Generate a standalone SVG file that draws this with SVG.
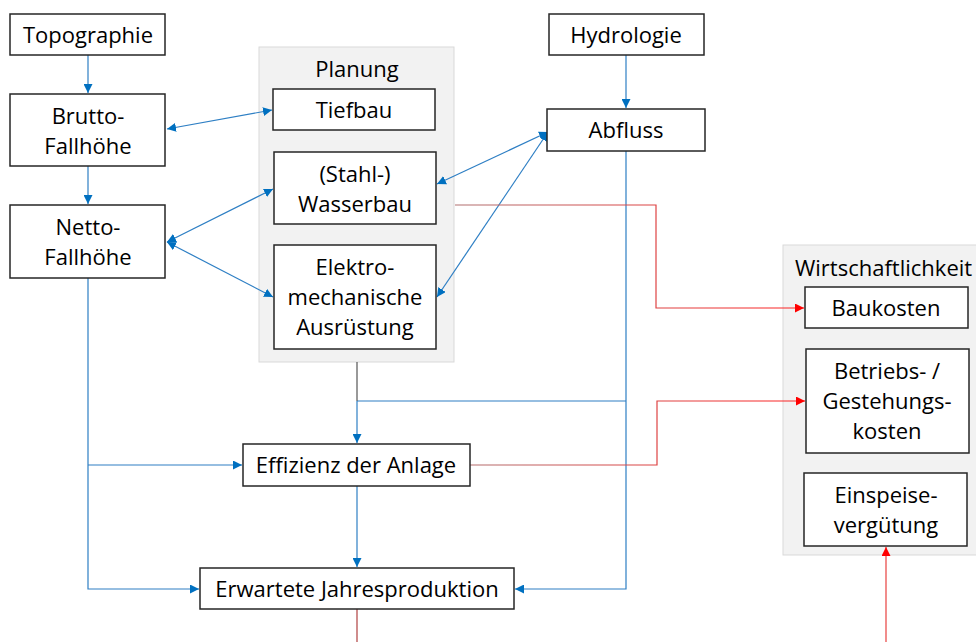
<svg xmlns="http://www.w3.org/2000/svg" width="976" height="642" viewBox="0 0 976 642">
<style>
.box{fill:#fff;stroke:#262626;stroke-width:1.5}
.grp{fill:#f2f2f2;stroke:#d9d9d9;stroke-width:1}
text{font-family:"Open Sans","Liberation Sans",sans-serif;font-size:22px;fill:#000;text-anchor:middle}
.b{fill:none;stroke:#2e7fc4;stroke-width:1.2}
.r{fill:none;stroke:#e8403f;stroke-width:1.2}
.g{fill:none;stroke:#555;stroke-width:1.2}
</style>
<defs>
<marker id="ab" viewBox="0 0 10 10" refX="10" refY="5" markerWidth="9" markerHeight="9" markerUnits="userSpaceOnUse" orient="auto-start-reverse"><path d="M0,0L10,5L0,10z" fill="#0070c0"/></marker>
<marker id="ar" viewBox="0 0 10 10" refX="10" refY="5" markerWidth="9" markerHeight="9" markerUnits="userSpaceOnUse" orient="auto-start-reverse"><path d="M0,0L10,5L0,10z" fill="#ff0000"/></marker>
<linearGradient id="rg1" gradientUnits="userSpaceOnUse" x1="455" y1="0" x2="805" y2="0"><stop offset="0" stop-color="#b07070"/><stop offset="1" stop-color="#ff2020"/></linearGradient>
</defs>
<g id="planung"><rect class="grp" x="259" y="47" width="195" height="315"/><text x="357" y="77">Planung</text></g>
<g id="wirtschaftlichkeit"><rect class="grp" x="783" y="245" width="200" height="310"/><text x="795" y="276" style="text-anchor:start">Wirtschaftlichkeit</text></g>
<g id="connectors">
<path class="b" d="M88,55V93" marker-end="url(#ab)"/>
<path class="b" d="M88,166V204" marker-end="url(#ab)"/>
<path class="b" d="M167,129L272,110" marker-start="url(#ab)" marker-end="url(#ab)"/>
<path class="b" d="M167,242L273,189" marker-start="url(#ab)" marker-end="url(#ab)"/>
<path class="b" d="M167,242L273,297" marker-start="url(#ab)" marker-end="url(#ab)"/>
<path class="b" d="M548,132L437,184" marker-start="url(#ab)" marker-end="url(#ab)"/>
<path class="b" d="M548,132L437,297" marker-start="url(#ab)" marker-end="url(#ab)"/>
<path class="b" d="M626,55V108" marker-end="url(#ab)"/>
<path class="b" d="M626,151V589H515" marker-end="url(#ab)"/>
<path class="b" d="M626,401H357"/>
<path class="g" d="M357,362V401"/>
<path class="b" d="M357,401V443" marker-end="url(#ab)"/>
<path class="b" d="M88,278V589H199" marker-end="url(#ab)"/>
<path class="b" d="M88,465H242" marker-end="url(#ab)"/>
<path class="b" d="M357,486V567" marker-end="url(#ab)"/>
<path fill="none" stroke="#b04040" stroke-width="1.2" d="M357,609V642"/>
<path fill="none" stroke="url(#rg1)" stroke-width="1.2" d="M455,205H656V308H804" marker-end="url(#ar)"/>
<path fill="none" stroke="url(#rg1)" stroke-width="1.2" d="M470,465H657V401H805" marker-end="url(#ar)"/>
<path class="r" d="M886,642V547" marker-end="url(#ar)"/>
</g>
<g id="topographie"><rect class="box" x="10" y="14" width="155" height="41"/><text x="88" y="43">Topographie</text></g>
<g id="brutto"><rect class="box" x="10" y="94" width="155" height="72"/><text x="88" y="124">Brutto-</text><text x="88" y="154">Fallhöhe</text></g>
<g id="netto"><rect class="box" x="10" y="205" width="155" height="73"/><text x="88" y="235">Netto-</text><text x="88" y="265">Fallhöhe</text></g>
<g id="tiefbau"><rect class="box" x="273" y="89" width="162" height="41"/><text x="354" y="118">Tiefbau</text></g>
<g id="wasserbau"><rect class="box" x="274" y="152" width="162" height="72"/><text x="355" y="182">(Stahl-)</text><text x="355" y="212">Wasserbau</text></g>
<g id="elektro"><rect class="box" x="274" y="245" width="162" height="104"/><text x="355" y="275">Elektro-</text><text x="355" y="305">mechanische</text><text x="355" y="335">Ausrüstung</text></g>
<g id="hydrologie"><rect class="box" x="549" y="14" width="155" height="41"/><text x="626" y="43">Hydrologie</text></g>
<g id="abfluss"><rect class="box" x="547" y="109" width="158" height="42"/><text x="626" y="138">Abfluss</text></g>
<g id="baukosten"><rect class="box" x="805" y="287" width="163" height="41"/><text x="886" y="316">Baukosten</text></g>
<g id="betriebskosten"><rect class="box" x="806" y="349" width="163" height="104"/><text x="887" y="379">Betriebs- /</text><text x="887" y="409">Gestehungs-</text><text x="887" y="439">kosten</text></g>
<g id="einspeise"><rect class="box" x="804" y="473" width="163" height="73"/><text x="886" y="503">Einspeise-</text><text x="886" y="533">vergütung</text></g>
<g id="effizienz"><rect class="box" x="243" y="444" width="227" height="42"/><text x="356" y="473">Effizienz der Anlage</text></g>
<g id="jahresproduktion"><rect class="box" x="200" y="568" width="314" height="41"/><text x="357" y="597">Erwartete Jahresproduktion</text></g>
</svg>
